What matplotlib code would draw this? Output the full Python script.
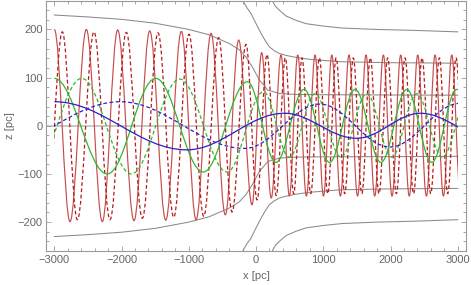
#!/usr/bin/env python3
"""
Vertical oscillation of stars crossing a density step (x-z plane).
"""

import matplotlib
matplotlib.use('Agg')
import matplotlib.pyplot as plt
from matplotlib.path import Path
from matplotlib.patches import PathPatch, Rectangle
from matplotlib.ticker import MultipleLocator

plt.rcParams['font.family'] = ['Liberation Sans', 'DejaVu Sans']

# extrema (x [pc], z [pc]); points outside |x|<=3000 are
# estimated turning points just past the frame, the curves are clipped there
red_solid_x = [-3000, -2767, -2524, -2286, -2058, -1815, -1581, -1343, -1111, -892,
               -669, -457, -258, -60, 84, 226, 372, 496, 620, 749, 878, 1003, 1127,
               1255, 1383, 1510, 1636, 1765, 1894, 2023, 2152, 2279, 2405, 2534, 2663,
               2787, 2911, 3040]
red_solid_z = [200, -199, 200, -199, 199, -197, 197, -196, 196, -195,
               192, -185, 178, -164, 152, -150, 147, -146, 147, -146, 147, -146, 147,
               -146, 147, -146, 147, -146, 147, -146, 147, -146, 147, -146, 147,
               -146, 147, -146]

red_dash_x = [-3116, -2881, -2658, -2410, -2172, -1929, -1691, -1458, -1224, -997,
              -778, -556, -357, -149, 15, 164, 300, 436, 560, 684, 813, 942, 1067,
              1191, 1319, 1447, 1574, 1700, 1829, 1958, 2087, 2216, 2343, 2469, 2598,
              2727, 2851, 2975, 3103]
red_dash_z = [-195, 195, -195, 195, -195, 194, -192, 193, -190, 190,
              -188, 183, -179, 169, -154, 148, -145, 141, -141, 141, -141, 141, -141,
              141, -141, 141, -141, 141, -141, 141, -141, 141, -141, 141, -141,
              141, -141, 141, -141]

green_solid_x = [-3000, -2212, -1492, -785, -128, 297, 714, 1094, 1473, 1857, 2242, 2613, 2985, 3730]
green_solid_z = [98.5, -100, 98.5, -96, 91.5, -76, 75.5, -76, 75.5, -76, 75.5, -76, 75.5, -76]

green_dash_x = [-3331, -2593, -1855, -1135, -430, 109, 494, 878, 1262, 1646, 2018, 2390, 2770, 3170]
green_dash_z = [-100, 98.5, -100, 97, -96, 70.5, -65, 66.5, -65, 66.5, -65, 66.5, -65, 66.5]

blue_solid_x = [-3000, -1030, 420, 1495, 2445, 3500]
blue_solid_z = [50, -50, 26, -26, 26, -26]

blue_dash_x = [-3980, -2020, -170, 952, 1993, 3030]
blue_dash_z = [-50, 50, -47, 45, -44, 46.5]

# gray curves (upper branch; the lower branch is the mirror image)
gray1_x = [-3000, -2500, -2000, -1500, -1000, -700, -400, -250, -150, -50, 50, 175, 350, 600, 1000, 2000, 3000]
gray1_z = [230, 226, 221, 213, 200, 189, 171, 158, 143, 121, 95, 74, 67, 65, 64.5, 64, 63.5]

gray2_x = [-215, -198, -140, -74, 0, 74, 140, 198, 270, 347, 450, 595, 800, 1250, 2000, 3000]
gray2_z = [275, 260, 246, 233, 212, 192, 176, 164, 156, 150, 146, 142, 138, 133, 131, 130]

gray3_x = [235, 248, 290, 347, 446, 595, 744, 1000, 1279, 1800, 2380, 3000]
gray3_z = [275, 258, 248, 240, 228, 219, 212, 207, 203, 200, 198, 195]

K = 1 - 2 / 3.141592653589793   # cubic handle that makes a half cosine


def wave_patch(xs, zs, **kw):
    """Half-cosine arcs between consecutive turning points, as one Bezier path."""
    verts = [(xs[0], zs[0])]
    codes = [Path.MOVETO]
    for i in range(len(xs) - 1):
        dx = xs[i + 1] - xs[i]
        verts += [(xs[i] + K * dx, zs[i]), (xs[i + 1] - K * dx, zs[i + 1]), (xs[i + 1], zs[i + 1])]
        codes += [Path.CURVE4] * 3
    return PathPatch(Path(verts, codes), fill=False, **kw)


fig = plt.figure(figsize=(4.71, 2.85), dpi=100)
ax = fig.add_axes([0.0968, 0.1193, 0.8936, 0.8787])

ax.axhline(0, color='#c4c4c4', lw=1.3, zorder=1)

for gx, gz in [(gray1_x, gray1_z), (gray2_x, gray2_z), (gray3_x, gray3_z)]:
    ax.plot(gx, gz, color='#8a8a8a', lw=0.75, zorder=2)
    ax.plot(gx, [-v for v in gz], color='#8a8a8a', lw=0.75, zorder=2)

clip = Rectangle((-3000, -400), 6000, 800, transform=ax.transData)
curves = [
    (red_solid_x, red_solid_z, dict(color='#c84c4c', lw=0.85, linestyle='-')),
    (red_dash_x, red_dash_z, dict(color='#b81818', lw=0.9, linestyle=(0, (3, 2)))),
    (green_solid_x, green_solid_z, dict(color='#2fb82f', lw=0.9, linestyle='-')),
    (green_dash_x, green_dash_z, dict(color='#2fb82f', lw=0.9, linestyle=(0, (3, 2)))),
    (blue_solid_x, blue_solid_z, dict(color='#2424c8', lw=0.9, linestyle='-')),
    (blue_dash_x, blue_dash_z, dict(color='#2424c8', lw=0.9, linestyle=(0, (3, 2)))),
]
for i, (cx, cz, style) in enumerate(curves):
    p = wave_patch(cx, cz, zorder=3 + i, **style)
    ax.add_patch(p)
    p.set_clip_path(clip)

ax.set_xlim(-3130, 3130)
ax.set_ylim(-260, 260)

ax.xaxis.set_major_locator(MultipleLocator(1000))
ax.xaxis.set_minor_locator(MultipleLocator(200))
ax.yaxis.set_major_locator(MultipleLocator(100))
ax.yaxis.set_minor_locator(MultipleLocator(20))

frame_col = '#9a9a9a'
for s in ax.spines.values():
    s.set_color(frame_col)
    s.set_linewidth(0.8)
ax.tick_params(which='both', direction='in', top=True, right=True, color=frame_col,
               labelcolor='#666666', labelsize=8, width=0.6)
ax.tick_params(which='major', length=3.5)
ax.tick_params(which='minor', length=2)
ax.tick_params(axis='x', pad=3)
ax.tick_params(axis='y', pad=2)

ax.set_xlabel('x [pc]', color='#666666', fontsize=8, labelpad=4)
ax.set_ylabel('z [pc]', color='#666666', fontsize=8, labelpad=2)

fig.savefig('out.png', dpi=100)
plt.close(fig)
